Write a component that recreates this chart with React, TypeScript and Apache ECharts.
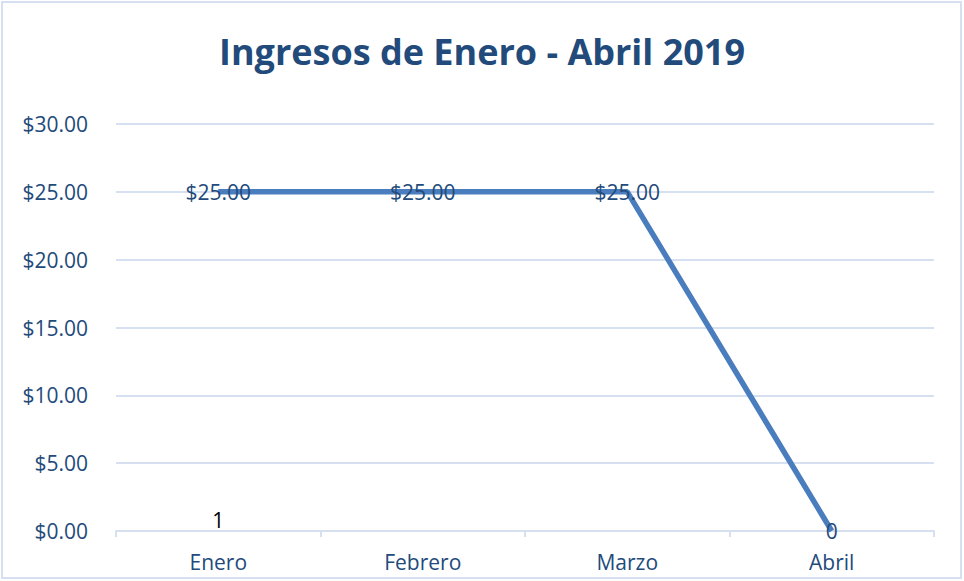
import React, { useEffect, useRef } from "react";
import * as echarts from "echarts";

const categories = ["Enero", "Febrero", "Marzo", "Abril"];
const ingresos = [25, 25, 25, 0];
const notaValores = [0];
const notaEtiqueta = "1";
const yMin = 0;
const yMax = 30;
const yInterval = 5;

const DARK = "#224A7B";
const LIGHT = "#D6E0F0";
const FONT = "Open Sans";
const FS = 21;

export default function App() {
  const ref = useRef<HTMLDivElement>(null);
  useEffect(() => {
    document.body.style.margin = "0";
    const chart = echarts.init(ref.current!, undefined, { renderer: "svg" });
    chart.setOption({
      animation: false,
      backgroundColor: "#ffffff",
      title: {
        text: "Ingresos de Enero - Abril 2019",
        left: "center",
        top: 28,
        textStyle: { fontFamily: FONT, fontSize: 36, fontWeight: "bold", color: "#224A7B" },
      },
      graphic: [
        {
          type: "rect",
          shape: { x: 2, y: 2, width: 959, height: 576 },
          style: { fill: "none", stroke: LIGHT, lineWidth: 2 },
          silent: true,
        },
      ],
      grid: { left: 116, right: 30, top: 124, bottom: 50 },
      xAxis: {
        type: "category",
        data: categories,
        axisLine: { lineStyle: { color: LIGHT, width: 2 } },
        axisTick: { show: true, length: 6, lineStyle: { color: LIGHT, width: 2 } },
        axisLabel: { color: DARK, fontFamily: FONT, fontSize: FS, margin: 20 },
      },
      yAxis: {
        type: "value",
        min: yMin,
        max: yMax,
        interval: yInterval,
        axisLine: { show: false },
        axisTick: { show: false },
        splitLine: { lineStyle: { color: LIGHT, width: 2 } },
        axisLabel: {
          color: DARK,
          fontFamily: FONT,
          fontSize: FS,
          margin: 28,
          formatter: (v: number) => "$" + v.toFixed(2),
        },
      },
      series: [
        {
          type: "line",
          data: ingresos,
          symbol: "none",
          lineStyle: { color: "#4A7DBD", width: 5.5 },
          z: 2,
        },
        {
          type: "scatter",
          data: ingresos,
          symbolSize: 0,
          itemStyle: { opacity: 1 },
          z: 3,
          label: {
            show: true,
            position: "inside",
            color: DARK,
            opacity: 1,
            textBorderWidth: 0,
            textBorderColor: "transparent",
            fontFamily: FONT,
            fontSize: FS,
            formatter: (p: any) => (p.value === 0 ? "0" : "$" + Number(p.value).toFixed(2)),
          },
        },
        {
          type: "scatter",
          data: notaValores,
          symbolSize: 0,
          itemStyle: { opacity: 1 },
          z: 3,
          label: {
            show: true,
            position: "top",
            distance: 1,
            color: "#000000",
            opacity: 1,
            textBorderWidth: 0,
            textBorderColor: "transparent",
            fontFamily: FONT,
            fontSize: FS,
            formatter: () => notaEtiqueta,
          },
        },
      ],
    });
    return () => chart.dispose();
  }, []);
  return <div ref={ref} style={{ position: "absolute", left: 0, top: 0, width: 964, height: 581 }} />;
}
